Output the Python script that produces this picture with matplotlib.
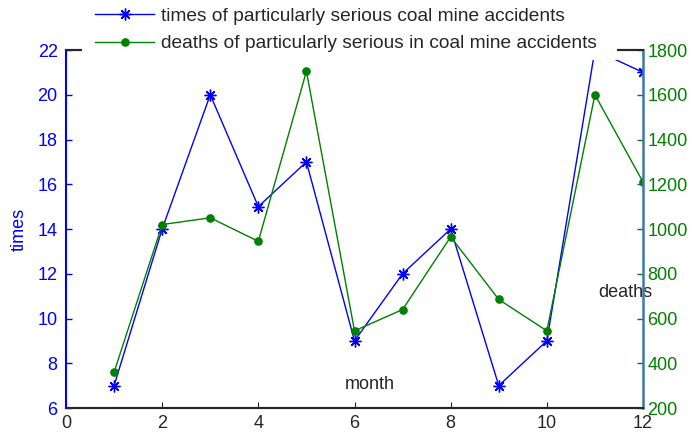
import numpy as np
import matplotlib
matplotlib.use("Agg")
import matplotlib.pyplot as plt
from matplotlib.patches import Rectangle

plt.rcParams['font.family'] = ['Liberation Sans', 'DejaVu Sans']

months = [1, 2, 3, 4, 5, 6, 7, 8, 9, 10, 11, 12]
times = [7, 14, 20, 15, 17, 9, 12, 14, 7, 9, 22, 21]
deaths = [360, 1020, 1050, 945, 1705, 545, 640, 965, 685, 545, 1600, 1210]

xticks = [0, 2, 4, 6, 8, 10, 12]
lticks = [6, 8, 10, 12, 14, 16, 18, 20, 22]
rticks = [200, 400, 600, 800, 1000, 1200, 1400, 1600, 1800]

blue = '#0000ff'
green = '#008000'
txt = '#262626'
fs = 13
lfs = 13.8

fig = plt.figure(figsize=(6.92, 4.36), dpi=100)
ax = fig.add_axes([66/692, 1-408/436, 577/692, 358/436])
ax2 = ax.twinx()

l1, = ax.plot(months, times, color=blue, lw=1.0, marker=(8, 2, 0),
              markersize=8.5, markeredgewidth=1.0,
              label='times of particularly serious coal mine accidents')
l2, = ax2.plot(months, deaths, color=green, lw=1.0, marker='o',
               markersize=5.2, label='deaths of particularly serious in coal mine accidents')

ax.set_xlim(0, 12)
ax.set_ylim(6, 22)
ax2.set_ylim(200, 1800)
ax.set_xticks(xticks)
ax.set_yticks(lticks)
ax2.set_yticks(rticks)

ax.tick_params(axis='x', direction='in', length=4, width=0.8, colors=txt,
               labelsize=fs, pad=5, top=True)
ax.tick_params(axis='y', direction='in', length=4, width=1.0, colors=blue,
               labelsize=fs, pad=6)
ax2.tick_params(axis='y', direction='in', length=4, width=1.0, colors=green,
                labelsize=fs, pad=3)

for a in (ax, ax2):
    a.spines['top'].set_color(txt)
    a.spines['bottom'].set_color(txt)
    a.spines['bottom'].set_linewidth(1.5)
    a.spines['top'].set_linewidth(1.5)
ax.spines['left'].set_color(blue)
ax.spines['left'].set_linewidth(1.5)
ax2.spines['left'].set_visible(False)
ax.spines['right'].set_visible(False)
ax2.spines['right'].set_color('#3f78a8')
ax2.spines['right'].set_linewidth(1.8)

ax.set_ylabel('times', color=blue, fontsize=fs)
ax.yaxis.set_label_coords(-0.066, 0.5)
ax.set_xlabel('month', color=txt, fontsize=fs)
ax.xaxis.set_label_coords(0.527, 0.09)
ax2.set_ylabel('deaths', color=txt, fontsize=fs, rotation=0, va='center', ha='center')
ax2.yaxis.set_label_coords(0.97, 0.324)

# white box behind the legend, it hides the top of the axes like the original
fig.add_artist(Rectangle((82/692, 1-60/436), 535/692, 60/436, transform=fig.transFigure,
                         facecolor='white', edgecolor='none', zorder=4))

leg = fig.legend(handles=[l1, l2], loc='center left',
                 bbox_to_anchor=(95/692, 1-30/436), fontsize=lfs,
                 frameon=False, handlelength=3.1, handletextpad=0.36,
                 labelspacing=0.52, borderpad=0, borderaxespad=0)
leg.set_zorder(5)
for t in leg.get_texts():
    t.set_color(txt)

fig.savefig('out.png', dpi=100)
